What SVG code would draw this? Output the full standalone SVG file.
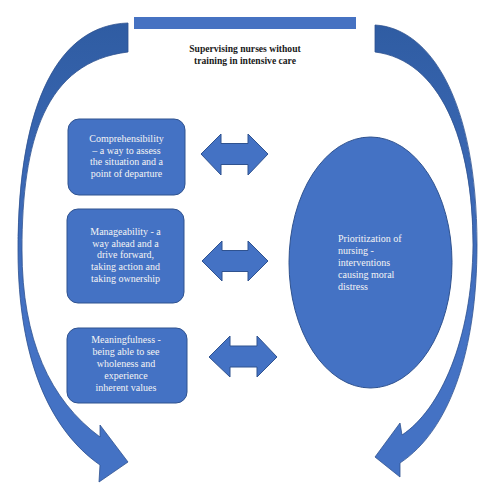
<svg xmlns="http://www.w3.org/2000/svg" width="495" height="500" viewBox="0 0 495 500">
<defs>
<style>
.shape{fill:#4472C4;stroke:#2F528F;stroke-width:1}
.curve{stroke:#2F528F;stroke-width:0.8}
.lbl{font-family:"Liberation Serif","Times New Roman",serif;font-size:10px;fill:#F4F4F4}
.title{font-family:"Liberation Serif","Times New Roman",serif;font-size:9.6px;font-weight:bold;fill:#1A1A1A}
</style>
<linearGradient id="gl" gradientUnits="userSpaceOnUse" x1="0" y1="20" x2="0" y2="320">
<stop offset="0" stop-color="#2F5CA2"/><stop offset="1" stop-color="#4472C4"/>
</linearGradient>
</defs>
<rect width="495" height="500" fill="#FFFFFF"/>
<g id="title">
<rect x="134" y="17" width="222" height="12" fill="#4672C2"/>
<text class="title" x="245" y="52" text-anchor="middle">Supervising nurses without</text>
<text class="title" x="245" y="64" text-anchor="middle">training in intensive care</text>
</g>
<g id="connectors">
<path class="curve" fill="url(#gl)" d="M128,23 C60,25 18,100 18,250 C18,360 50,430 100,465 L99,482 L128,462 L100,425 L100,437 C50,400 22,340 22,250 C22,140 45,62 128,52 Z"/>
<path class="curve" fill="url(#gl)" d="M375,25 C430,28 477,100 477,245 C477,350 450,430 400,463 L400,477 L375,457 L400,423 L402,435 C440,410 472,340 473,245 C473,140 440,60 375,52 Z"/>
<polygon class="shape" points="201,154 221,134 221,143.5 248,143.5 248,134 268,154 248,175 248,164.5 221,164.5 221,175"/>
<polygon class="shape" points="202,261 222,241 222,250.5 248,250.5 248,241 268,261 248,281 248,271.5 222,271.5 222,281"/>
<polygon class="shape" points="209,357 230,336 230,346 257,346 257,336 277,357 257,377 257,367 230,367 230,377"/>
</g>
<g id="comprehensibility">
<rect class="shape" x="68" y="119" width="117" height="76" rx="11"/>
<text class="lbl" text-anchor="middle"><tspan x="126.5" y="142">Comprehensibility</tspan><tspan x="126.5" y="153.5">– a way to assess</tspan><tspan x="126.5" y="165">the situation and a</tspan><tspan x="126.5" y="176.5">point of departure</tspan></text>
</g>
<g id="manageability">
<rect class="shape" x="67" y="209" width="117" height="94" rx="11"/>
<text class="lbl" text-anchor="middle"><tspan x="125.5" y="235">Manageability - a</tspan><tspan x="125.5" y="246.5">way ahead and a</tspan><tspan x="125.5" y="258">drive forward,</tspan><tspan x="125.5" y="270">taking action and</tspan><tspan x="125.5" y="281.5">taking ownership</tspan></text>
</g>
<g id="meaningfulness">
<rect class="shape" x="67" y="328" width="120" height="75" rx="11"/>
<text class="lbl" text-anchor="middle"><tspan x="126" y="343">Meaningfulness -</tspan><tspan x="126" y="355">being able to see</tspan><tspan x="126" y="367">wholeness and</tspan><tspan x="126" y="379">experience</tspan><tspan x="126" y="391">inherent values</tspan></text>
</g>
<g id="prioritization">
<ellipse class="shape" cx="370.5" cy="262.5" rx="81.5" ry="125.5"/>
<text class="lbl"><tspan x="338" y="242">Prioritization of</tspan><tspan x="338" y="254">nursing -</tspan><tspan x="338" y="266">interventions</tspan><tspan x="338" y="278">causing moral</tspan><tspan x="338" y="290">distress</tspan></text>
</g>
</svg>
